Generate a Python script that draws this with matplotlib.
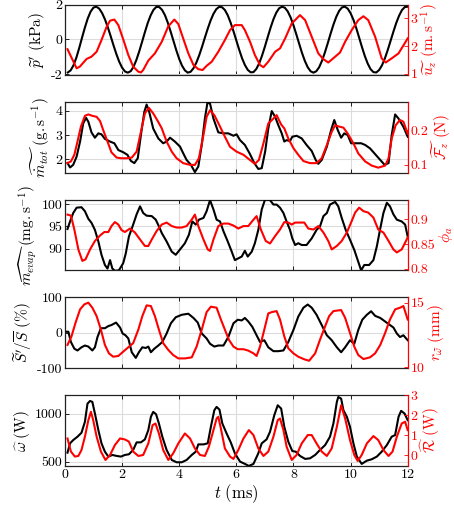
import numpy as np
import matplotlib
matplotlib.use('Agg')
import matplotlib.pyplot as plt

plt.rcParams['font.family'] = 'serif'
plt.rcParams['font.serif'] = ['cmr10', 'DejaVu Serif']
plt.rcParams['mathtext.fontset'] = 'cm'
plt.rcParams['axes.unicode_minus'] = False

# ---------------- data ----------------
t_grid = np.round(np.arange(1, 121) / 10.0, 1)

# panel 1: pressure fluctuation (kPa)
p_vals = [-1.89, -1.77, -1.48, -1.04, -0.49, 0.11, 0.69, 1.21, 1.60, 1.83,
          1.88, 1.77, 1.52, 1.16, 0.71, 0.20, -0.33, -0.83, -1.27, -1.61,
          -1.83, -1.90, -1.82, -1.57, -1.18, -0.69, -0.14, 0.42, 0.95, 1.38,
          1.70, 1.87, 1.86, 1.70, 1.40, 0.97, 0.46, -0.08, -0.62, -1.11,
          -1.50, -1.77, -1.90, -1.85, -1.65, -1.33, -0.91, -0.42, 0.11, 0.62,
          1.09, 1.47, 1.74, 1.87, 1.85, 1.69, 1.39, 0.97, 0.48, -0.05,
          -0.58, -1.07, -1.46, -1.74, -1.88, -1.87, -1.69, -1.37, -0.93, -0.41,
          0.14, 0.68, 1.16, 1.54, 1.79, 1.88, 1.82, 1.61, 1.27, 0.82,
          0.30, -0.24, -0.77, -1.23, -1.59, -1.82, -1.90, -1.82, -1.59, -1.22,
          -0.75, -0.22, 0.33, 0.85, 1.30, 1.64, 1.84, 1.88, 1.77, 1.51,
          1.13, 0.65, 0.11, -0.44, -0.95, -1.38, -1.70, -1.87, -1.89, -1.75,
          -1.48, -1.09, -0.61, -0.08, 0.45, 0.95, 1.37, 1.69, 1.86, 1.88]

# panel 1: axial velocity (m/s)
uz_t = [0.09, 0.41, 0.52, 0.76, 0.93, 1.11, 1.28, 1.46, 1.58, 1.73, 1.87, 2.04, 2.22,
        2.39, 2.57, 2.66, 2.74, 2.92, 3.15, 3.39, 3.62, 3.83, 3.97, 4.14, 4.32, 4.5,
        4.67, 4.82, 4.96, 5.14, 5.37, 5.6, 5.78, 5.95, 6.19, 6.3, 6.48, 6.65, 6.83,
        6.95, 7.12, 7.36, 7.53, 7.71, 7.94, 8.23, 8.41, 8.64, 8.87, 9.05, 9.22, 9.46,
        9.63, 9.81, 10.04, 10.27, 10.45, 10.62, 10.86, 11.09, 11.23, 11.44, 11.68, 12.0]
uz_v = [1.89, 1.20, 1.26, 1.54, 1.62, 1.80, 2.22, 2.70, 2.92, 2.96, 2.76, 2.25, 1.68,
        1.26, 1.08, 1.05, 1.14, 1.48, 1.74, 2.16, 2.72, 2.96, 2.80, 2.28, 1.74, 1.32,
        1.17, 1.14, 1.29, 1.44, 1.80, 2.22, 2.58, 2.76, 2.76, 2.58, 2.16, 1.68, 1.32,
        1.24, 1.44, 1.80, 1.92, 2.28, 2.82, 3.12, 2.94, 2.34, 1.74, 1.53, 1.41, 1.62,
        1.77, 2.16, 2.58, 2.94, 3.08, 2.94, 2.34, 1.56, 1.41, 1.56, 1.74, 2.28]

# panel 2: total mass flow (g/s)
mt_t = [0.09, 0.18, 0.29, 0.41, 0.53, 0.64, 0.74, 0.82, 0.93, 1.05, 1.17, 1.28, 1.40,
        1.58, 1.73, 1.87, 2.04, 2.19, 2.31, 2.43, 2.55, 2.66, 2.78, 2.86, 2.95, 3.09,
        3.27, 3.44, 3.56, 3.68, 3.85, 4.03, 4.14, 4.26, 4.41, 4.55, 4.67, 4.79, 4.90,
        4.99, 5.08, 5.20, 5.37, 5.55, 5.72, 5.90, 6.01, 6.13, 6.30, 6.48, 6.63, 6.77,
        6.89, 7.01, 7.12, 7.24, 7.36, 7.47, 7.59, 7.68, 7.76, 7.88, 7.96, 8.11, 8.29,
        8.46, 8.64, 8.78, 8.87, 8.99, 9.17, 9.32, 9.43, 9.55, 9.67, 9.78, 9.90, 10.02,
        10.22, 10.37, 10.51, 10.68, 10.86, 11.04, 11.19, 11.33, 11.44, 11.56, 11.68,
        11.85, 12.0]
mt_v = [1.84, 1.66, 1.77, 2.11, 2.73, 3.48, 3.71, 3.55, 3.11, 2.89, 3.07, 3.03, 2.84,
        2.73, 2.66, 2.38, 2.29, 2.18, 1.93, 1.84, 2.04, 3.00, 3.96, 4.26, 3.96, 3.27,
        2.86, 2.66, 2.73, 2.89, 2.73, 2.52, 2.25, 1.97, 1.77, 1.47, 1.70, 2.59, 3.68,
        4.34, 4.30, 3.68, 3.11, 3.07, 3.07, 2.97, 3.03, 2.79, 2.59, 2.21, 1.84, 1.60,
        1.63, 2.32, 3.27, 3.99, 3.75, 3.41, 3.07, 2.73, 2.79, 2.75, 2.93, 2.97, 2.86,
        2.59, 2.34, 1.97, 1.81, 1.97, 2.52, 3.21, 3.62, 3.21, 2.89, 3.07, 3.00, 2.66,
        2.66, 2.66, 2.59, 2.45, 2.21, 1.97, 1.77, 1.84, 3.00, 3.85, 3.68,
        3.34, 2.93]

# panel 2: axial force (N)
fz_t = [0.09, 0.21, 0.33, 0.44, 0.56, 0.70, 0.82, 0.96, 1.11, 1.23, 1.34, 1.49, 1.63,
        1.81, 1.98, 2.16, 2.34, 2.51, 2.66, 2.80, 2.94, 3.09, 3.25, 3.39, 3.56, 3.74,
        3.91, 4.14, 4.38, 4.55, 4.69, 4.85, 4.96, 5.08, 5.23, 5.43, 5.60, 5.78, 6.01,
        6.25, 6.48, 6.65, 6.79, 6.95, 7.12, 7.30, 7.41, 7.57, 7.68, 7.82, 8.00, 8.17,
        8.35, 8.58, 8.81, 8.99, 9.17, 9.34, 9.46, 9.60, 9.75, 9.90, 10.10, 10.27,
        10.51, 10.74, 10.97, 11.21, 11.33, 11.44, 11.58, 11.73, 11.85, 12.0]
fz_v = [0.105, 0.110, 0.129, 0.167, 0.210, 0.241, 0.245, 0.241, 0.238, 0.226, 0.200,
        0.167, 0.136, 0.121, 0.119, 0.119, 0.121, 0.138, 0.195, 0.248, 0.264, 0.248,
        0.226, 0.205, 0.167, 0.138, 0.119, 0.105, 0.100, 0.100, 0.119, 0.186, 0.238,
        0.257, 0.243, 0.210, 0.181, 0.152, 0.138, 0.129, 0.114, 0.103, 0.114, 0.162,
        0.219, 0.233, 0.243, 0.216, 0.205, 0.176, 0.148, 0.129, 0.111, 0.105, 0.105,
        0.119, 0.157, 0.195, 0.214, 0.210, 0.207, 0.190, 0.162, 0.133, 0.110, 0.098,
        0.092, 0.098, 0.119, 0.176, 0.214, 0.229, 0.224, 0.190]

# panel 3: evaporated mass flow (mg/s)
me_t = [0.09, 0.18, 0.29, 0.41, 0.58, 0.70, 0.82, 0.93, 1.05, 1.17, 1.28, 1.40, 1.49,
        1.58, 1.66, 1.75, 1.89, 2.04, 2.13, 2.24, 2.39, 2.51, 2.63, 2.74, 2.86, 3.04,
        3.18, 3.29, 3.39, 3.56, 3.74, 3.88, 4.03, 4.20, 4.34, 4.46, 4.58, 4.69, 4.85,
        4.96, 5.08, 5.20, 5.31, 5.43, 5.55, 5.70, 5.84, 5.95, 6.07, 6.19, 6.30, 6.40,
        6.54, 6.65, 6.77, 6.89, 7.01, 7.18, 7.30, 7.41, 7.53, 7.65, 7.76, 7.88, 7.96,
        8.06, 8.17, 8.29, 8.46, 8.64, 8.81, 8.93, 9.05, 9.17, 9.28, 9.46, 9.57, 9.69,
        9.83, 9.98, 10.13, 10.25, 10.37, 10.48, 10.65, 10.80, 10.92, 11.03, 11.15,
        11.27, 11.38, 11.50, 11.62, 11.79, 11.91, 12.0]
me_v = [94.4, 96.1, 98.0, 99.2, 99.3, 98.4, 96.7, 95.8, 94.2, 91.6, 88.6, 86.3, 85.5,
        87.4, 85.5, 85.0, 85.1, 86.7, 88.9, 92.7, 95.4, 97.7, 99.5, 98.0, 97.4, 97.3,
        96.5, 95.0, 93.5, 91.6, 89.3, 88.6, 89.8, 91.2, 93.1, 96.1, 95.4, 96.5, 96.9,
        98.4, 100.9, 98.8, 96.5, 96.1, 93.9, 91.6, 89.3, 87.4, 87.8, 88.2, 89.5, 88.2,
        89.3, 91.2, 94.2, 98.8, 101.1, 100.9, 99.9, 99.9, 99.2, 98.0, 96.1, 94.2, 92.3,
        90.8, 91.2, 90.8, 90.8, 92.3, 94.2, 95.0, 97.3, 98.0, 99.9, 100.5, 99.5, 96.9,
        94.2, 92.0, 89.7, 87.4, 85.1, 86.3, 86.3, 87.4, 90.5, 94.2, 98.0,
        100.3, 99.5, 97.7, 96.5, 96.1, 95.4, 92.7]

# panel 3: equivalence ratio
phi_t = [0.09, 0.21, 0.33, 0.47, 0.61, 0.72, 0.88, 1.05, 1.23, 1.38, 1.52, 1.63, 1.75,
         1.87, 1.98, 2.10, 2.28, 2.45, 2.63, 2.80, 2.92, 3.04, 3.21, 3.39, 3.56, 3.74,
         3.91, 4.09, 4.26, 4.44, 4.55, 4.67, 4.85, 5.00, 5.08, 5.20, 5.37, 5.55, 5.72,
         5.90, 6.07, 6.25, 6.42, 6.56, 6.71, 6.86, 7.03, 7.18, 7.36, 7.53, 7.68, 7.82,
         7.94, 8.06, 8.23, 8.38, 8.52, 8.70, 8.87, 9.05, 9.22, 9.34, 9.52, 9.69, 9.87,
         10.04, 10.16, 10.30, 10.45, 10.62, 10.80, 10.97, 11.15, 11.33, 11.50, 11.62,
         11.79, 12.0]
phi_v = [0.909, 0.907, 0.879, 0.839, 0.816, 0.819, 0.839, 0.856, 0.867, 0.874, 0.874,
         0.886, 0.894, 0.889, 0.878, 0.874, 0.881, 0.873, 0.859, 0.846, 0.846, 0.859,
         0.876, 0.889, 0.893, 0.886, 0.883, 0.883, 0.886, 0.899, 0.909, 0.886, 0.859,
         0.839, 0.836, 0.859, 0.886, 0.891, 0.891, 0.887, 0.881, 0.886, 0.886, 0.896,
         0.906, 0.879, 0.856, 0.851, 0.866, 0.879, 0.894, 0.893, 0.889, 0.893, 0.893,
         0.893, 0.881, 0.879, 0.886, 0.873, 0.856, 0.839, 0.846, 0.856, 0.873, 0.896,
         0.913, 0.923, 0.916, 0.913, 0.903, 0.879, 0.873, 0.856, 0.839, 0.833, 0.839,
         0.863]

# panel 4: flame surface fluctuation (%)
s_t = [0.06, 0.12, 0.21, 0.33, 0.44, 0.58, 0.70, 0.82, 0.96, 1.05, 1.14, 1.26, 1.40,
       1.52, 1.63, 1.79, 1.93, 2.02, 2.12, 2.22, 2.34, 2.48, 2.59, 2.71, 2.83, 2.92,
       3.01, 3.13, 3.27, 3.41, 3.56, 3.71, 3.88, 4.09, 4.32, 4.50, 4.65, 4.79, 4.96,
       5.08, 5.23, 5.37, 5.55, 5.72, 5.90, 6.05, 6.19, 6.30, 6.42, 6.56, 6.71, 6.83,
       6.98, 7.12, 7.30, 7.47, 7.65, 7.82, 8.00, 8.17, 8.35, 8.50, 8.64, 8.81, 8.99,
       9.17, 9.34, 9.52, 9.67, 9.81, 9.98, 10.13, 10.27, 10.41, 10.57, 10.72, 10.86,
       11.04, 11.21, 11.38, 11.50, 11.62, 11.73, 11.85, 12.0]
s_v = [3, 3, -26, -45, -50, -41, -36, -39, -50, -41, -12, 13, 13, 19, 22, 29, 15, -2,
       -7, -16, -55, -71, -55, -41, -43, -39, -55, -45, -36, -26, -2, 27, 44, 51, 54,
       42, 29, -2, -16, -31, -39, -36, -36, -12, 27, 37, 35, 42, 32, 17, -7, -26, -21,
       -41, -52, -52, -50, -26, 8, 46, 71, 80, 71, 51, 22, -7, -21, -41, -55, -41,
       -21, -31, 8, 37, 51, 61, 48, 42, 32, 22, 15, -2, -12, -7, -21]

# panel 4: flame radius (mm)
r_t = [0.09, 0.23, 0.37, 0.53, 0.68, 0.82, 0.96, 1.11, 1.26, 1.40, 1.54, 1.69, 1.87,
       2.04, 2.22, 2.39, 2.57, 2.71, 2.86, 3.01, 3.15, 3.29, 3.44, 3.62, 3.79, 3.97,
       4.20, 4.44, 4.61, 4.79, 4.96, 5.11, 5.31, 5.46, 5.60, 5.74, 5.90, 6.05, 6.25,
       6.42, 6.60, 6.71, 6.83, 6.98, 7.12, 7.24, 7.41, 7.53, 7.68, 7.82, 8.00, 8.17,
       8.38, 8.55, 8.76, 8.93, 9.11, 9.25, 9.40, 9.67, 9.81, 9.98, 10.13, 10.27,
       10.45, 10.68, 10.86, 11.04, 11.21, 11.38, 11.56, 11.73, 11.85, 12.0]
r_v = [11.74, 12.40, 13.44, 14.48, 14.87, 15.00, 14.61, 13.96, 12.92, 11.74, 11.09,
       10.83, 10.89, 11.22, 11.56, 11.88, 12.92, 13.96, 14.79, 14.74, 13.96, 12.92,
       11.88, 11.35, 10.96, 10.70, 10.70, 10.78, 11.61, 12.92, 14.27, 14.69, 14.61,
       13.70, 12.92, 12.14, 11.61, 11.41, 11.41, 11.30, 11.09, 10.89, 11.61, 12.92,
       14.17, 14.27, 14.35, 13.70, 12.40, 11.48, 11.09, 10.83, 10.63, 10.52, 11.09,
       12.14, 13.18, 13.96, 14.35, 14.43, 13.83, 12.66, 11.61, 10.96, 10.65, 10.78,
       11.09, 11.74, 12.66, 13.70, 14.48, 14.61, 14.74, 13.70]

# panel 5: heat release (W)
w_t = [0.09, 0.18, 0.29, 0.44, 0.58, 0.70, 0.79, 0.88, 0.96, 1.05, 1.17, 1.28, 1.40,
       1.52, 1.66, 1.81, 1.96, 2.10, 2.24, 2.39, 2.51, 2.66, 2.80, 2.92, 3.01, 3.09,
       3.19, 3.29, 3.41, 3.56, 3.74, 3.91, 4.09, 4.26, 4.44, 4.58, 4.67, 4.85, 5.00,
       5.11, 5.23, 5.31, 5.41, 5.51, 5.66, 5.81, 5.95, 6.13, 6.30, 6.44, 6.60, 6.77,
       6.89, 7.06, 7.18, 7.33, 7.45, 7.57, 7.68, 7.82, 7.96, 8.08, 8.23, 8.41, 8.58,
       8.76, 8.93, 9.11, 9.28, 9.40, 9.52, 9.57, 9.67, 9.75, 9.87, 9.98, 10.10, 10.22,
       10.39, 10.57, 10.74, 10.92, 11.09, 11.27, 11.44, 11.56, 11.68, 11.77, 11.89, 12.0]
w_v = [593, 690, 724, 759, 800, 914, 1103, 1131, 1121, 1000, 828, 690, 603, 552, 569,
       559, 552, 569, 576, 621, 700, 700, 731, 828, 966, 1017, 993, 897, 759, 621, 517,
       493, 493, 517, 569, 603, 679, 679, 690, 862, 1034, 1069, 1041, 897, 793, 697,
       586, 500, 476, 455, 476, 586, 690, 731, 810, 983, 1086, 1052, 862, 707, 610, 603,
       559, 528, 534, 569, 621, 672, 759, 897, 1121, 1172, 1155, 1034, 966, 862, 690,
       552, 476, 510, 524, 552, 603, 672, 759, 776, 966, 1028, 1000, 931]

# panel 5: Rayleigh term (W)
ry_t = [0.09, 0.21, 0.35, 0.47, 0.58, 0.70, 0.82, 0.91, 0.99, 1.11, 1.26, 1.42, 1.58,
        1.75, 1.93, 2.10, 2.24, 2.39, 2.57, 2.74, 2.92, 3.07, 3.17, 3.29, 3.44, 3.62,
        3.79, 3.97, 4.20, 4.38, 4.55, 4.73, 4.90, 5.04, 5.20, 5.31, 5.37, 5.46, 5.60,
        5.78, 5.90, 6.07, 6.25, 6.44, 6.60, 6.77, 6.95, 7.12, 7.30, 7.45, 7.53, 7.65,
        7.76, 7.94, 8.11, 8.29, 8.50, 8.64, 8.81, 8.99, 9.17, 9.34, 9.52, 9.67, 9.81,
        9.98, 10.13, 10.25, 10.39, 10.57, 10.80, 10.97, 11.15, 11.33, 11.47, 11.62,
        11.79, 11.91, 12.0]
ry_v = [0.83, 0.17, -0.08, -0.05, 0.25, 0.92, 1.75, 2.17, 1.75, 0.92, 0.17, -0.25,
        0.00, 0.50, 0.83, 0.78, 0.67, 0.17, -0.05, 0.00, 0.58, 1.50, 1.58, 1.08, 0.25,
        -0.25, 0.08, 0.58, 1.08, 0.83, 0.33, 0.00, -0.05, 0.42, 1.25, 1.83, 1.92, 1.33,
        0.33, -0.08, -0.20, 0.25, 0.83, 1.25, 1.00, 0.33, -0.05, 0.17, 0.92, 1.75, 1.83,
        1.25, 0.42, -0.25, 0.00, 0.58, 1.00, 1.00, 0.58, 0.17, -0.05, 0.33, 1.42, 2.50,
        1.83, 0.75, 0.00, -0.30, 0.00, 0.58, 0.95, 0.75, 0.25, -0.05, 0.17, 0.92, 1.58,
        1.67, 1.25]

x_ticks = [0, 2, 4, 6, 8, 10, 12]
x_ticklabels = ['0', '2', '4', '6', '8', '10', '12']

panels = [
    dict(lt=t_grid, lv=p_vals, rt=uz_t, rv=uz_v,
         lylim=(-2.05, 2.0), lticks=[-2, 0, 2], lticklabels=['-2', '0', '2'],
         rylim=(0.95, 3.5), rticks=[1, 2, 3], rticklabels=['1', '2', '3'],
         llabel=r"$\widetilde{p}^{\prime}\ (\mathrm{kPa})$",
         rlabel=r"$\widetilde{u_z}\ (\mathrm{m.s}^{-1})$"),
    dict(lt=mt_t, lv=mt_v, rt=fz_t, rv=fz_v,
         lylim=(1.45, 4.37), lticks=[2, 3, 4], lticklabels=['2', '3', '4'],
         rylim=(0.078, 0.281), rticks=[0.1, 0.2], rticklabels=['0.1', '0.2'],
         llabel=r"$\widetilde{\dot{m}_{tot}}\ (\mathrm{g.s}^{-1})$",
         rlabel=r"$\widetilde{\mathcal{F}_z}\ (\mathrm{N})$"),
    dict(lt=me_t, lv=me_v, rt=phi_t, rv=phi_v,
         lylim=(85.1, 101.0), lticks=[90, 95, 100], lticklabels=['90', '95', '100'],
         rylim=(0.797, 0.939), rticks=[0.8, 0.85, 0.9], rticklabels=['0.8', '0.85', '0.9'],
         llabel=r"$\widehat{m_{evap}}\ (\mathrm{mg.s}^{-1})$",
         rlabel=r"$\phi_a$"),
    dict(lt=s_t, lv=s_v, rt=r_t, rv=r_v,
         lylim=(-100, 100), lticks=[-100, 0, 100], lticklabels=['-100', '0', '100'],
         rylim=(9.95, 15.4), rticks=[10, 15], rticklabels=['10', '15'],
         llabel=r"$\widetilde{S}^{\prime}/\overline{S}\ (\%)$",
         rlabel=r"$r_{\widetilde{\omega}}\ (\mathrm{mm})$"),
    dict(lt=w_t, lv=w_v, rt=ry_t, rv=ry_v,
         lylim=(455, 1190), lticks=[500, 1000], lticklabels=['500', '1000'],
         rylim=(-0.55, 3.0), rticks=[0, 1, 2, 3], rticklabels=['0', '1', '2', '3'],
         llabel=r"$\widehat{\omega}\ (\mathrm{W})$",
         rlabel=r"$\widehat{\mathcal{R}}\ (\mathrm{W})$"),
]

bottoms = [0.853, 0.663, 0.472, 0.281, 0.090]
height = 0.138
left, width = 0.143, 0.755

fig = plt.figure(figsize=(4.54, 5.12), dpi=100)
tick_fs = 10
label_fs = 11
red = '#ff0000'

for i, pn in enumerate(panels):
    ax = fig.add_axes([left, bottoms[i], width, height])
    ax.plot(pn['lt'], pn['lv'], color='black', lw=1.5, zorder=3)
    ax.set_xlim(0, 12)
    ax.set_ylim(*pn['lylim'])
    ax.set_xticks(x_ticks)
    ax.set_yticks(pn['lticks'])
    ax.set_yticklabels(pn['lticklabels'])
    if i == 4:
        ax.set_xticklabels(x_ticklabels)
        ax.set_xlabel(r"$t\ (\mathrm{ms})$", fontsize=12, labelpad=1)
    else:
        ax.set_xticklabels([])
    ax.grid(True, color='#dcdcdc', lw=0.8)
    ax.set_axisbelow(True)
    ax.tick_params(direction='in', length=3, width=0.6, labelsize=tick_fs, pad=2,
                   top=True)
    ax.set_ylabel(pn['llabel'], fontsize=label_fs, labelpad=2)
    for s in ['left', 'top', 'bottom']:
        ax.spines[s].set_color('#222222')
        ax.spines[s].set_linewidth(0.9)
    ax.spines['right'].set_visible(False)

    ax2 = ax.twinx()
    ax2.plot(pn['rt'], pn['rv'], color=red, lw=1.5)
    ax2.set_ylim(*pn['rylim'])
    ax2.set_yticks(pn['rticks'])
    ax2.set_yticklabels(pn['rticklabels'])
    ax2.tick_params(axis='y', direction='in', length=3, width=0.6, colors=red,
                    labelsize=tick_fs, pad=2)
    ax2.spines['right'].set_color(red)
    ax2.spines['right'].set_linewidth(0.9)
    for s in ['left', 'top', 'bottom']:
        ax2.spines[s].set_visible(False)
    ax2.set_ylabel(pn['rlabel'], fontsize=label_fs, color=red, labelpad=1)

fig.savefig('out.png', dpi=100)
